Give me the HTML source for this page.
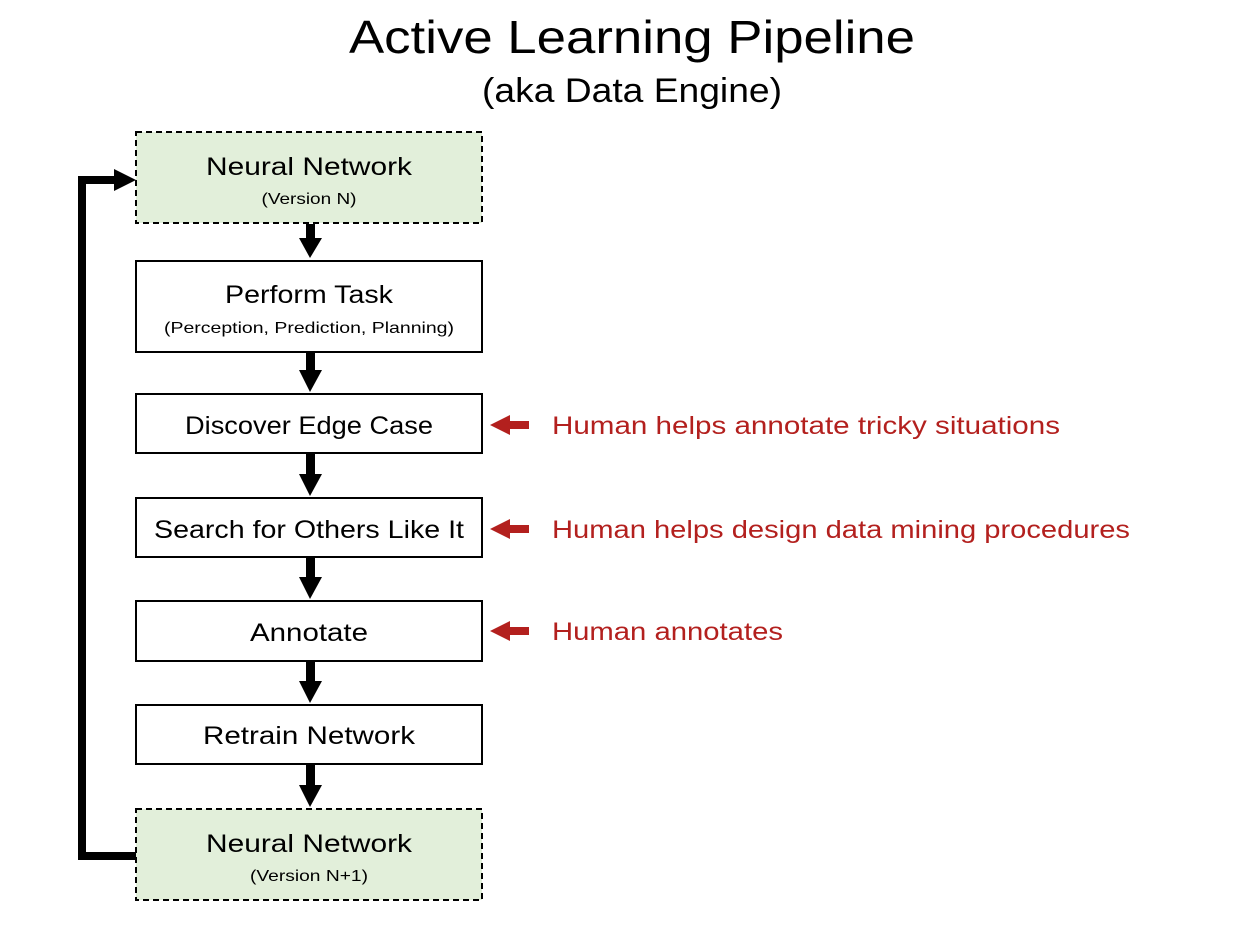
<!DOCTYPE html>
<html><head><meta charset="utf-8"><style>html,body{margin:0;padding:0;background:#fff}svg{display:block}</style></head>
<body>
<svg width="1260" height="932" viewBox="0 0 1260 932" xmlns="http://www.w3.org/2000/svg" font-family="Liberation Sans, sans-serif">
<rect width="1260" height="932" fill="#fff"/>
<text x="632" y="53" font-size="46" text-anchor="middle" textLength="566" lengthAdjust="spacingAndGlyphs">Active Learning Pipeline</text>
<text x="632" y="102" font-size="34" text-anchor="middle" textLength="300" lengthAdjust="spacingAndGlyphs">(aka Data Engine)</text>

<g stroke="#000" stroke-width="2">
<rect x="136" y="132" width="346" height="91" fill="#e2efda" stroke-dasharray="6,4"/>
<rect x="136" y="261" width="346" height="91" fill="#fff"/>
<rect x="136" y="394" width="346" height="59" fill="#fff"/>
<rect x="136" y="498" width="346" height="59" fill="#fff"/>
<rect x="136" y="601" width="346" height="60" fill="#fff"/>
<rect x="136" y="705" width="346" height="59" fill="#fff"/>
<rect x="136" y="809" width="346" height="91" fill="#e2efda" stroke-dasharray="6,4"/>
</g>

<g fill="#000">
<rect x="306" y="224" width="9" height="16"/><polygon points="299,238 322,238 310,258"/>
<rect x="306" y="353" width="9" height="20"/><polygon points="299,370 322,370 310,392"/>
<rect x="306" y="454" width="9" height="22"/><polygon points="299,474 322,474 310,496"/>
<rect x="306" y="558" width="9" height="21"/><polygon points="299,577 322,577 310,599"/>
<rect x="306" y="662" width="9" height="21"/><polygon points="299,681 322,681 310,703"/>
<rect x="306" y="765" width="9" height="22"/><polygon points="299,785 322,785 310,807"/>
<rect x="78" y="176" width="8" height="684"/>
<rect x="78" y="176" width="40" height="8"/>
<polygon points="114,169 114,191 136,180"/>
<rect x="78" y="852" width="58" height="8"/>
</g>

<g font-size="25" text-anchor="middle" fill="#000">
<text x="309" y="175" textLength="206" lengthAdjust="spacingAndGlyphs">Neural Network</text>
<text x="309" y="204" font-size="16" textLength="95" lengthAdjust="spacingAndGlyphs">(Version N)</text>
<text x="309" y="303" textLength="168" lengthAdjust="spacingAndGlyphs">Perform Task</text>
<text x="309" y="333" font-size="16" textLength="290" lengthAdjust="spacingAndGlyphs">(Perception, Prediction, Planning)</text>
<text x="309" y="434" textLength="248" lengthAdjust="spacingAndGlyphs">Discover Edge Case</text>
<text x="309" y="538" textLength="310" lengthAdjust="spacingAndGlyphs">Search for Others Like It</text>
<text x="309" y="641" textLength="118" lengthAdjust="spacingAndGlyphs">Annotate</text>
<text x="309" y="744" textLength="212" lengthAdjust="spacingAndGlyphs">Retrain Network</text>
<text x="309" y="852" textLength="206" lengthAdjust="spacingAndGlyphs">Neural Network</text>
<text x="309" y="881" font-size="16" textLength="118" lengthAdjust="spacingAndGlyphs">(Version N+1)</text>
</g>

<g fill="#b3201e">
<polygon points="490,425 510,415 510,435"/><rect x="508" y="421" width="21" height="8"/>
<polygon points="490,529 510,519 510,539"/><rect x="508" y="525" width="21" height="8"/>
<polygon points="490,631 510,621 510,641"/><rect x="508" y="627" width="21" height="8"/>
</g>
<g font-size="25" fill="#b3201e">
<text x="552" y="434" textLength="508" lengthAdjust="spacingAndGlyphs">Human helps annotate tricky situations</text>
<text x="552" y="538" textLength="578" lengthAdjust="spacingAndGlyphs">Human helps design data mining procedures</text>
<text x="552" y="640" textLength="231" lengthAdjust="spacingAndGlyphs">Human annotates</text>
</g>
</svg>
</body></html>
